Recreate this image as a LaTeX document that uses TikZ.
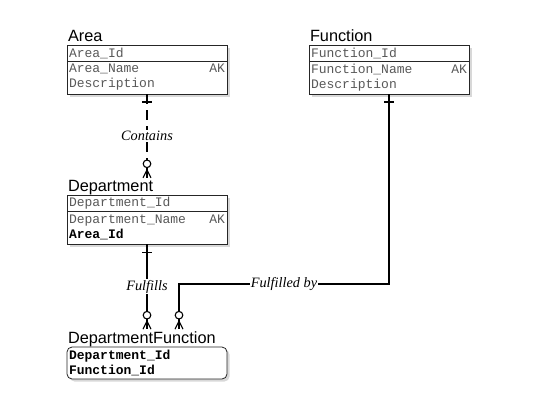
\documentclass[tikz,border=0pt]{standalone}
\usepackage{fontspec}
\setmainfont{Liberation Serif}
\setsansfont{Liberation Sans}
\setmonofont{Liberation Mono}
\usetikzlibrary{positioning,shadows,calc}

\tikzset{
  entity/.style={font=\sffamily\fontsize{16.3}{18}\selectfont, inner sep=0pt, outer sep=2pt, anchor=base west},
  row/.style={draw=black!85, fill=white, line width=0.8pt, text width=156pt, align=left, outer sep=0pt,
    inner xsep=2pt, inner ysep=2pt, font=\ttfamily\fontsize{13}{15}\selectfont, text=black!65,
    drop shadow={shadow xshift=2.5pt, shadow yshift=-2.5pt, fill=black!30}},
  keyrow/.style={row, anchor=north west, minimum height=16pt},
  attrrow/.style={row, anchor=north, minimum height=33pt},
  rel/.style={line width=1.1pt},
  rellabel/.style={fill=white, inner sep=1pt, font=\itshape\fontsize{14.3}{16}\selectfont}
}
\newcommand{\onemark}[1]{\draw[rel] ($(#1)+(-5,8)$) -- ++(10,0);}
\newcommand{\manymark}[1]{%
  \draw[rel, fill=white] ($(#1)+(0,-14)$) circle (3.8);
  \draw[rel] ($(#1)+(-4,0)$) -- ($(#1)+(0,-8)$) -- ($(#1)+(4,0)$);
  \draw[rel] ($(#1)+(0,-10.2)$) -- (#1);}

\begin{document}
\begin{tikzpicture}[x=1pt,y=-1pt]
\useasboundingbox (0,0) rectangle (540,413);

% Area
\node[entity] (area) at (66,41) {Area};
\node[keyrow] (areakey) at (67,45) {Area\_Id};
\node[attrrow] (areaattr) at (areakey.south) {Area\_Name\hfill AK\\Description};

% Function
\node[entity] (func) at (308,41) {Function};
\node[keyrow] (funckey) at (309,45) {Function\_Id};
\node[attrrow] (funcattr) at (funckey.south) {Function\_Name\hfill AK\\Description};

% Department
\node[entity] (dept) at (66,191) {Department};
\node[keyrow] (deptkey) at (67,195) {Department\_Id};
\node[attrrow] (deptattr) at (deptkey.south) {Department\_Name\hfill AK\\\textcolor{black}{\bfseries Area\_Id}};

% DepartmentFunction
\node[entity] (deptfunc) at (66,343) {DepartmentFunction};
\node[keyrow, rounded corners=5pt, minimum height=32pt, text=black] (deptfunckey) at (67,347)
  {\bfseries Department\_Id\\\bfseries Function\_Id};

% relationships
\coordinate (fb) at (179,284);
\draw[rel, dash pattern=on 10pt off 6pt] (areaattr.south) -- node[rellabel]{Contains} (areaattr.south |- dept.north);
\draw[rel] (deptattr.south) -- node[rellabel]{Fulfills} (deptattr.south |- deptfunc.north);
\draw[rel] (funcattr.south) |- node[rellabel, pos=0.75]{Fulfilled by} (fb) -- (fb |- deptfunc.north);

\onemark{areaattr.south}
\onemark{funcattr.south}
\onemark{deptattr.south}
\manymark{areaattr.south |- dept.north}
\manymark{deptattr.south |- deptfunc.north}
\manymark{fb |- deptfunc.north}
\end{tikzpicture}
\end{document}
